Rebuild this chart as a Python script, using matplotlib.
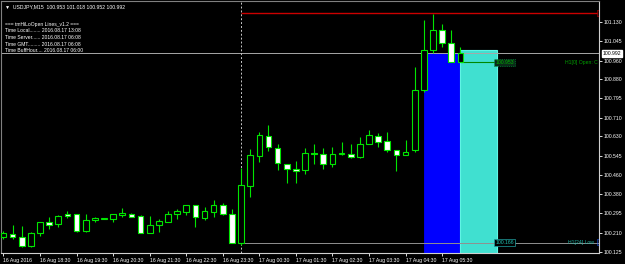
import matplotlib
matplotlib.use("Agg")
import matplotlib.pyplot as plt
from matplotlib.patches import Rectangle

# M15 bars, 16 Aug 17:30 -> 17 Aug 06:00
opens = [100.191, 100.204, 100.193, 100.152, 100.209, 100.256, 100.248, 100.294, 100.291, 100.219,
         100.265, 100.272, 100.269, 100.287, 100.294, 100.284, 100.210, 100.246, 100.258, 100.294,
         100.301, 100.330, 100.275, 100.301, 100.330, 100.291, 100.165, 100.413, 100.544, 100.631,
         100.579, 100.511, 100.489, 100.482, 100.556, 100.551, 100.511, 100.551, 100.551, 100.540,
         100.598, 100.631, 100.608, 100.569, 100.547, 100.569, 100.832, 101.006, 101.094, 101.036,
         100.953]
highs = [100.217, 100.243, 100.239, 100.214, 100.258, 100.279, 100.287, 100.304, 100.294, 100.294,
         100.279, 100.275, 100.294, 100.318, 100.297, 100.287, 100.282, 100.272, 100.304, 100.313,
         100.330, 100.332, 100.323, 100.355, 100.338, 100.313, 100.491, 100.577, 100.647, 100.680,
         100.598, 100.511, 100.521, 100.579, 100.598, 100.579, 100.583, 100.605, 100.598, 100.626,
         100.659, 100.644, 100.648, 100.572, 100.612, 100.930, 101.137, 101.162, 101.120, 101.092,
         101.018]
lows = [100.183, 100.183, 100.148, 100.149, 100.197, 100.225, 100.236, 100.274, 100.214, 100.214,
        100.258, 100.270, 100.258, 100.279, 100.277, 100.207, 100.207, 100.213, 100.255, 100.272,
        100.287, 100.236, 100.265, 100.277, 100.287, 100.164, 100.157, 100.365, 100.517, 100.566,
        100.482, 100.427, 100.427, 100.465, 100.511, 100.489, 100.496, 100.547, 100.537, 100.537,
        100.595, 100.583, 100.561, 100.479, 100.547, 100.560, 100.825, 100.995, 101.017, 100.955,
        100.952]
closes = [100.209, 100.191, 100.154, 100.209, 100.256, 100.243, 100.282, 100.282, 100.219, 100.265,
          100.275, 100.273, 100.290, 100.297, 100.279, 100.210, 100.243, 100.261, 100.294, 100.304,
          100.330, 100.278, 100.304, 100.330, 100.291, 100.165, 100.417, 100.547, 100.634, 100.582,
          100.514, 100.489, 100.479, 100.559, 100.551, 100.511, 100.551, 100.557, 100.540, 100.598,
          100.634, 100.605, 100.569, 100.550, 100.564, 100.832, 101.007, 101.092, 101.036, 100.956,
          100.992]

time_labels = ["16 Aug 2016", "16 Aug 18:30", "16 Aug 19:30", "16 Aug 20:30", "16 Aug 21:30",
               "16 Aug 22:30", "16 Aug 23:30", "17 Aug 00:30", "17 Aug 01:30", "17 Aug 02:30",
               "17 Aug 03:30", "17 Aug 04:30", "17 Aug 05:30"]
price_ticks = [101.130, 101.045, 100.960, 100.880, 100.795, 100.710, 100.630,
               100.545, 100.460, 100.380, 100.295, 100.210, 100.125]

bid = 100.992
h1_open = 100.953
h1_low24 = 100.166
red_level = 101.166
day_sep_bar = 26          # 17 Aug 00:00
box_prev = (46, 50, 100.995)   # H1 05:00 box: start bar, end bar, top
box_cur = (50, 54, 101.004)    # H1 06:00 box

header = "USDJPY,M15  100.953 101.018 100.952 100.992"
info_lines = ["=== tmHiLoOpen Lines_v1.2 ===",
              "Time Local........ 2016.08.17 13:08",
              "Time Server...... 2016.08.17 06:08",
              "Time GMT......... 2016.08.17 06:08",
              "Time BuffHour.... 2016.08.17 06:00"]

plt.rcParams["font.family"] = ["Liberation Sans", "DejaVu Sans"]
GREEN = "#00e600"
fs = 3.7

fig = plt.figure(figsize=(6.25, 2.64), dpi=100, facecolor="black")
ax = fig.add_axes([0.002, 11 / 264, 598 / 625, 252 / 264], facecolor="black")
ax.set_xlim(-0.24, 65.19)
ax.set_ylim(100.122, 101.2195)

# H1 boxes
ax.add_patch(Rectangle((box_prev[0], 100.0), box_prev[1] - box_prev[0], box_prev[2] - 100.0,
                       facecolor="#0000ff", edgecolor="#0000ff", lw=0.6, zorder=1))
ax.add_patch(Rectangle((box_cur[0], 100.0), box_cur[1] - box_cur[0], box_cur[2] - 100.0,
                       facecolor="#40e0d0", edgecolor="#5ff5e5", lw=0.8, zorder=1))

# horizontal levels
ax.axhline(bid, color="#a8a8a8", lw=0.7, zorder=2)
ax.hlines(red_level, day_sep_bar, 64.9, color="#cc0000", lw=1.0, zorder=2)
ax.hlines(h1_low24, day_sep_bar, 65.2, color="#909090", lw=0.7, zorder=2)
ax.hlines(h1_open, 50, 54, color="#008800", lw=0.8, zorder=2)
ax.axvline(day_sep_bar, color="#c8c8c8", lw=0.7, ls=(0, (2, 2)), zorder=2)

# candles
w = 0.62
for i in range(len(opens)):
    o, h, l, c = opens[i], highs[i], lows[i], closes[i]
    ax.vlines(i, l, h, color=GREEN, lw=0.8, zorder=3)
    fc = "black" if c >= o else "white"
    lo, hi = min(o, c), max(o, c)
    ax.add_patch(Rectangle((i - w / 2, lo), w, max(hi - lo, 0.0015),
                           facecolor=fc, edgecolor=GREEN, lw=0.8, zorder=4))

# level labels
ax.text(53.8, h1_open, "100.953", color="#00b000", fontsize=fs, va="center", ha="left",
        bbox=dict(boxstyle="square,pad=0.2", fc="#0a2a18", ec="#00aa44", lw=0.5, ls=":"), zorder=5)
ax.text(53.8, h1_low24, "100.166", color="#20c0b0", fontsize=fs, va="center", ha="left",
        bbox=dict(boxstyle="square,pad=0.2", fc="black", ec="#20a0a0", lw=0.5), zorder=5)
ax.text(0.997, h1_open, "H1[0] Open: C", color="#00a000", fontsize=fs, va="center", ha="right",
        transform=ax.get_yaxis_transform(), zorder=5)
ax.text(0.992, h1_low24, "H1[24] Low", color="#20b0a0", fontsize=fs, va="center", ha="right",
        transform=ax.get_yaxis_transform(), zorder=5)
ax.text(0.998, h1_low24, "[", color="#2060ff", fontsize=fs + 1.5, va="center", ha="right",
        transform=ax.get_yaxis_transform(), zorder=5)
ax.text(0.998, red_level, "[", color="#e00000", fontsize=fs + 1.5, va="center", ha="right",
        transform=ax.get_yaxis_transform(), zorder=5)

# info texts
ax.text(0.006, 0.987, "\u25bc  " + header, color="white", fontsize=fs, va="top", ha="left",
        transform=ax.transAxes)
y0 = 0.918
for k, line in enumerate(info_lines):
    ax.text(0.006, y0 - k * 0.0265, line, color="white", fontsize=fs - 0.1,
            va="top", ha="left", transform=ax.transAxes)

# axes
ax.set_xticks(range(0, 49, 4))
ax.set_xticklabels(time_labels, ha="left", color="white", fontsize=fs)
ax.yaxis.tick_right()
ax.set_yticks(price_ticks)
ax.set_yticklabels([f"{p:.3f}" for p in price_ticks], color="white", fontsize=fs)
ax.tick_params(axis="x", direction="out", length=2.5, width=0.6, color="white", pad=1)
ax.tick_params(axis="y", direction="out", length=2, width=0.6, color="white", pad=1)
for s in ["left", "top"]:
    ax.spines[s].set_color("#808080")
    ax.spines[s].set_linewidth(0.8)
for s in ["right", "bottom"]:
    ax.spines[s].set_color("#d0d0d0")
    ax.spines[s].set_linewidth(0.8)

ax.annotate(f"{bid:.3f}", xy=(1.0, bid), xycoords=("axes fraction", "data"),
            xytext=(2.5, 0), textcoords="offset points", fontsize=fs, color="black",
            va="center", ha="left",
            bbox=dict(boxstyle="square,pad=0.2", fc="white", ec="white"), annotation_clip=False)

fig.savefig("out.png", dpi=100, facecolor="black")
